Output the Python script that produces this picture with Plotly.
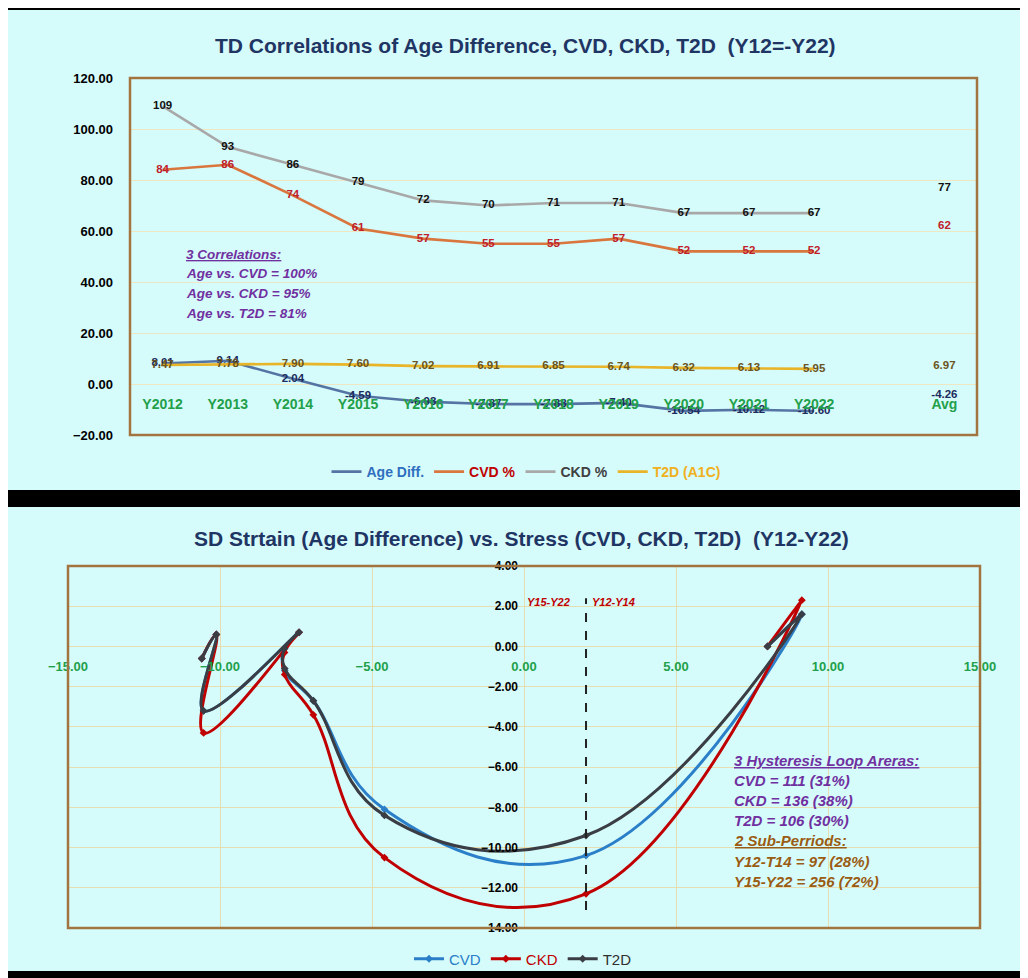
import plotly.graph_objects as go

# ---------------- data ----------------
years = ["Y2012", "Y2013", "Y2014", "Y2015", "Y2016", "Y2017",
         "Y2018", "Y2019", "Y2020", "Y2021", "Y2022"]
categories = years + [" ", "Avg"]

age_diff = [8.01, 9.14, 2.04, -4.59, -6.93, -7.87, -7.88, -7.40, -10.54, -10.12, -10.60]
age_diff_avg = -4.26
cvd_pct = [84, 86, 74, 61, 57, 55, 55, 57, 52, 52, 52]
cvd_avg = 62
ckd_pct = [109, 93, 86, 79, 72, 70, 71, 71, 67, 67, 67]
ckd_avg = 77
t2d_a1c = [7.47, 7.78, 7.90, 7.60, 7.02, 6.91, 6.85, 6.74, 6.32, 6.13, 5.95]
t2d_avg = 6.97

# stress (y) of the hysteresis chart, x = age_diff
cvd_stress = [0.0, 1.6, -10.4, -8.1, -2.7, -1.2, -0.1, 0.7, -3.2, 0.6, -0.6]
ckd_stress = [0.0, 2.3, -12.3, -10.5, -3.4, -1.4, -0.3, 0.7, -4.3, 0.6, -0.6]
t2d_stress = [0.0, 1.6, -9.4, -8.4, -2.7, -1.1, -0.1, 0.7, -3.2, 0.6, -0.6]

top_ticks = [-20, 0, 20, 40, 60, 80, 100, 120]
bot_yticks = [-14, -12, -10, -8, -6, -4, -2, 0, 2, 4]
bot_xticks = [-15, -10, -5, 0, 5, 10, 15]

corr_lines = ["3 Correlations:", "Age vs. CVD = 100%", "Age vs. CKD = 95%", "Age vs. T2D = 81%"]
loop_lines = ["3 Hysteresis Loop Areras:", "CVD = 111 (31%)", "CKD = 136 (38%)",
              "T2D = 106 (30%)", "2 Sub-Perriods:", "Y12-T14 = 97 (28%)", "Y15-Y22 = 256 (72%)"]

# ---------------- layout helpers ----------------
W, H = 1028, 978
OFF = 8  # page body offset
FONT = "Liberation Sans, Arial, sans-serif"
PX = lambda x: (x - OFF) / W
PY = lambda y: 1 - (y - OFF) / H

top_x = [PX(130), PX(977)]
top_y = [PY(435), PY(78)]
bot_x = [PX(68), PX(980)]
bot_y = [PY(928), PY(566)]

fig = go.Figure()

def ext(vals, avg):
    return vals + [None, avg]

def lab(vals, avg, fmt):
    return [fmt.format(v) for v in vals] + ["", fmt.format(avg)]

top_series = [
    ("Age Diff.", age_diff, age_diff_avg, "{:.2f}", "#5474a4", "#1c2c5c", "#2f6fbf"),
    ("CVD %", cvd_pct, cvd_avg, "{:.0f}", "#d8763e", "#c0202a", "#c00000"),
    ("CKD %", ckd_pct, ckd_avg, "{:.0f}", "#a8a8a8", "#111111", "#404040"),
    ("T2D (A1C)", t2d_a1c, t2d_avg, "{:.2f}", "#e8b428", "#6a5420", "#f0b020"),
]
for name, vals, avg, fmt, lc, tc, legc in top_series:
    fig.add_trace(go.Scatter(
        x=categories, y=ext(vals, avg), mode="lines+text",
        text=lab(vals, avg, fmt), textposition="middle center",
        textfont=dict(family=FONT, size=11.5, color=tc, weight="bold"),
        line=dict(color=lc, width=2.6), connectgaps=False,
        name=f'<span style="color:{legc}"><b>{name}</b></span>',
        xaxis="x", yaxis="y", legend="legend", hoverinfo="skip"))

bot_series = [
    ("CVD", cvd_stress, "#2a7fc8", "#2a7fc8"),
    ("CKD", ckd_stress, "#c00000", "#c00000"),
    ("T2D", t2d_stress, "#3a3e44", "#303030"),
]
for name, vals, lc, legc in bot_series:
    fig.add_trace(go.Scatter(
        x=age_diff, y=vals, mode="lines+markers",
        line=dict(color=lc, width=3, shape="spline", smoothing=1.25),
        marker=dict(symbol="diamond", size=6, color=lc),
        name=f'<span style="color:{legc}">{name}</span>',
        xaxis="x2", yaxis="y2", legend="legend2", hoverinfo="skip"))

shapes = [
    dict(type="rect", xref="paper", yref="paper", x0=PX(8), x1=PX(1021), y0=PY(490), y1=PY(10),
         fillcolor="#d6fbfb", line=dict(width=0), layer="below"),
    dict(type="rect", xref="paper", yref="paper", x0=PX(8), x1=PX(1021), y0=PY(971), y1=PY(507),
         fillcolor="#d6fbfb", line=dict(width=0), layer="below"),
    dict(type="rect", xref="x domain", yref="y domain", x0=0, x1=1, y0=0, y1=1,
         line=dict(color="#a27440", width=2.5), layer="above"),
    dict(type="rect", xref="x2 domain", yref="y2 domain", x0=0, x1=1, y0=0, y1=1,
         line=dict(color="#a27440", width=2.5), layer="above"),
    dict(type="line", xref="x2", yref="y2", x0=age_diff[2], x1=age_diff[2], y0=-13.1, y1=2.4,
         line=dict(color="#222222", width=2, dash="dash")),
]

annotations = [
    dict(text="<b>TD Correlations of Age Difference, CVD, CKD, T2D  (Y12=-Y22)</b>",
         xref="paper", yref="paper", x=PX(525), y=PY(45), showarrow=False,
         xanchor="center", yanchor="middle",
         font=dict(family=FONT, size=21, color="#1f3564")),
    dict(text="<b>SD Strtain (Age Difference) vs. Stress (CVD, CKD, T2D)  (Y12-Y22)</b>",
         xref="paper", yref="paper", x=PX(521), y=PY(538), showarrow=False,
         xanchor="center", yanchor="middle",
         font=dict(family=FONT, size=21, color="#1f3564")),
    dict(text="<b><i>Y15-Y22</i></b>", xref="x2", yref="y2", x=0.8, y=2.2, showarrow=False,
         font=dict(family=FONT, size=11, color="#c00000")),
    dict(text="<b><i>Y12-Y14</i></b>", xref="x2", yref="y2", x=2.95, y=2.2, showarrow=False,
         font=dict(family=FONT, size=11, color="#c00000")),
]
for i, t in enumerate(corr_lines):
    txt = f"<b><i>{t}</i></b>" if i else f"<b><i><u>{t}</u></i></b>"
    annotations.append(dict(text=txt, xref="paper", yref="paper", x=PX(184), y=PY(254 + 19.8 * i),
                            xanchor="left", yanchor="middle", showarrow=False,
                            font=dict(family=FONT, size=13.5, color="#7030a0")))
for i, t in enumerate(loop_lines):
    col = "#7030a0" if i < 4 else "#9a5b12"
    txt = f"<b><i><u>{t}</u></i></b>" if i in (0, 4) else f"<b><i>{t}</i></b>"
    annotations.append(dict(text=txt, xref="paper", yref="paper", x=PX(732), y=PY(760 + 20.2 * i),
                            xanchor="left", yanchor="middle", showarrow=False,
                            font=dict(family=FONT, size=15, color=col)))

fig.update_layout(
    template="none",
    width=W, height=H, margin=dict(l=0, r=0, t=0, b=0, pad=0, autoexpand=False),
    paper_bgcolor="#000000", font=dict(family=FONT, color="#000000"),
    shapes=shapes, annotations=annotations,
    xaxis=dict(domain=top_x, anchor="free", position=top_y[0] + (20 / 140) * (top_y[1] - top_y[0]),
               type="category", categoryorder="array", categoryarray=categories,
               range=[-0.5, len(categories) - 0.5], showgrid=False, showline=False, zeroline=False,
               ticks="", automargin=False, ticklabelstandoff=10,
               tickfont=dict(family=FONT, size=14, color="#22a04a", weight="bold")),
    yaxis=dict(domain=top_y, anchor="x", range=[-20, 120], tickvals=top_ticks, tickformat=".2f",
               showgrid=True, gridcolor="#efe7c2", zeroline=False, showline=False, ticks="",
               ticklabelstandoff=16, automargin=False,
               tickfont=dict(family=FONT, size=13, color="#000000", weight="bold")),
    xaxis2=dict(domain=bot_x, anchor="free", position=bot_y[0] + (14 / 18) * (bot_y[1] - bot_y[0]),
                range=[-15, 15], tickvals=bot_xticks, tickformat=".2f",
                showgrid=True, gridcolor="#e6ddb0", zeroline=False, showline=False, ticks="",
                automargin=False, ticklabelstandoff=11,
                tickfont=dict(family=FONT, size=13, color="#22a04a", weight="bold")),
    yaxis2=dict(domain=bot_y, anchor="free", position=bot_x[0] + 0.5 * (bot_x[1] - bot_x[0]),
                range=[-14, 4], tickvals=bot_yticks, tickformat=".2f",
                showgrid=True, gridcolor="#e6ddb0", zeroline=False, showline=False, ticks="",
                ticklabelstandoff=6, automargin=False,
                tickfont=dict(family=FONT, size=12, color="#000000", weight="bold")),
    plot_bgcolor="#fffbd2",
    legend=dict(orientation="h", x=PX(526), xanchor="center", y=PY(472), yanchor="middle",
                bgcolor="rgba(0,0,0,0)", font=dict(family=FONT, size=14), itemwidth=30,
                tracegroupgap=0),
    legend2=dict(orientation="h", x=PX(523), xanchor="center", y=PY(959), yanchor="middle",
                 bgcolor="rgba(0,0,0,0)", font=dict(family=FONT, size=15), itemwidth=30),
    showlegend=True,
)

fig.write_html("out.html")
